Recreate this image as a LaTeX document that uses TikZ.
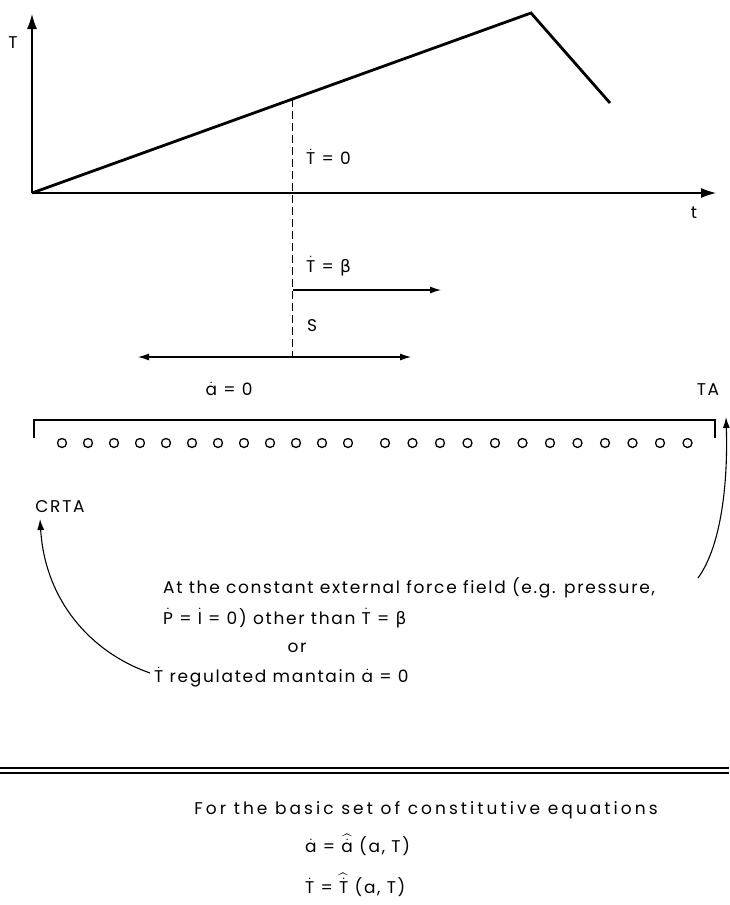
\documentclass[tikz,border=0pt]{standalone}
\usepackage{amsmath}
\usepackage{fontspec}
\setmainfont{Poppins}
\newfontfamily\gr{DejaVu Sans}
\usetikzlibrary{arrows.meta,calc}
\newcommand\dotc[1]{\ensuremath{\dot{\text{#1}}}}
\newcommand\hatdot[1]{\ensuremath{\widehat{\dot{\text{#1}}}}}
\newcommand\bet{{\gr β}}
\tikzset{
  axis/.style={line width=1.2pt,-{Latex[length=15pt,width=10pt]}},
  curveline/.style={line width=2.8pt,line join=miter},
  thinarrow/.style={line width=1.1pt,-{Latex[length=11pt,width=7pt]}},
  dblarrow/.style={line width=1.1pt,{Latex[length=11pt,width=7pt]}-{Latex[length=11pt,width=7pt]}},
  dashline/.style={line width=1pt,dash pattern=on 8pt off 4pt},
  lbl/.style={inner sep=0pt,font=\fontsize{17}{20}\selectfont\addfontfeature{LetterSpace=10}},
  site/.style={circle,draw,line width=1.3pt,minimum size=9pt,inner sep=0pt}
}
\begin{document}
\begin{tikzpicture}[x=1pt,y=-1pt]
\useasboundingbox (0,0) rectangle (729,905);
% axes
\coordinate (O) at (32,193);
\coordinate (Ytop) at (32,14);
\coordinate (Xend) at (716,193);
\draw[axis] (O) -- (Ytop);
\draw[axis] (O) -- (Xend);
\node[lbl] (Tlab) at (13,43) {T};
\node[lbl] (tlab) at (694,213) {t};
% curve
\coordinate (P) at (531,13);
\coordinate (Q) at (610,103);
\draw[curveline] (O) -- (P) -- (Q);
\coordinate (M) at (292,99.2);
\coordinate (Mb) at (292,357);
\draw[dashline] (M) -- (Mb);
\node[lbl,anchor=west] (T0) at (306,157) {\dotc{T} = 0};
% arrows
\coordinate (A1) at (293,290);
\coordinate (A2) at (441,290);
\draw[thinarrow] (A1) -- (A2);
\node[lbl,anchor=west] (Tb) at (306,266) {\dotc{T} = \bet};
\node[lbl,anchor=west] (S) at (307,326) {S};
\coordinate (B1) at (138,357);
\coordinate (B2) at (411,357);
\draw[dblarrow] (B1) -- (B2);
\node[lbl] (a0) at (229,389) {\dotc{a} = 0};
\node[lbl] (TA) at (708,390) {TA};
% bracket and sites
\coordinate (K1) at (34,438);
\coordinate (K2) at (34,420);
\coordinate (K3) at (715,420);
\coordinate (K4) at (715,438);
\draw[line width=1.1pt] (K1) -- (K2) -- (K3) -- (K4);
\foreach \i in {0,...,11}{
  \node[site] (cl\i) at ({62+\i*26},443) {};
  \node[site] (cr\i) at ({385+\i*27.5},443) {};
}
\node[lbl] (CRTA) at (60,507) {CRTA};
% text block
\node[lbl,anchor=west] (L1) at (163,588) {At the constant external force field (e.g. pressure,};
\node[lbl,anchor=west] (L2) at (163,618) {\dotc{P} = \dotc{I} = 0) other than \dotc{T} = \bet};
\node[lbl] (L3) at (297,648) {or};
\node[lbl,anchor=west] (L4) at (154,677) {\dotc{T} regulated mantain \dotc{a} = 0};
% curved arrows
\coordinate (R0) at (698,578);
\coordinate (R1) at (726,417);
\draw[thinarrow] (R0) .. controls (722,545) and (728,480) .. (R1);
\coordinate (C0) at (150,673);
\coordinate (C1) at (40,519);
\draw[thinarrow] (C0) .. controls (90,652) and (45,600) .. (C1);
% double rule
\coordinate (D1) at (0,768);
\coordinate (D2) at (729,768);
\coordinate (D3) at (0,773);
\coordinate (D4) at (729,773);
\draw[line width=1.2pt] (D1) -- (D2);
\draw[line width=1.2pt] (D3) -- (D4);
% bottom text
\node[lbl,font=\fontsize{17}{20}\selectfont\addfontfeature{LetterSpace=18}] (F1) at (426,810) {For the basic set of constitutive equations};
\node[lbl,anchor=west] (E1) at (305,845) {\dotc{a} = \hatdot{a}\ (a, T)};
\node[lbl,anchor=west] (E2) at (305,885) {\dotc{T} = \hatdot{T}\ (a, T)};
\end{tikzpicture}
\end{document}
